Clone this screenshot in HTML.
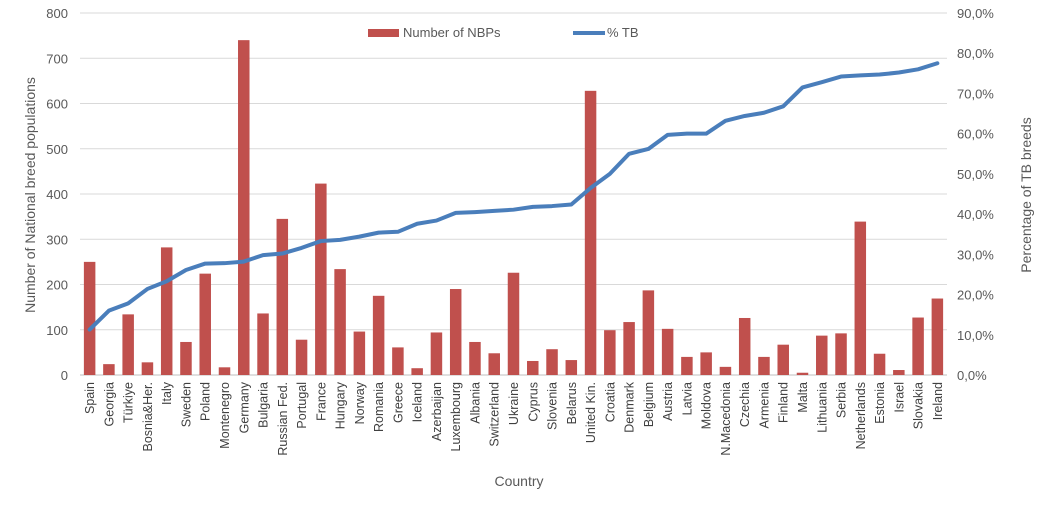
<!DOCTYPE html>
<html><head><meta charset="utf-8"><style>
body{margin:0;background:#fff}
svg{display:block;font-family:"Liberation Sans",sans-serif}
</style></head><body>
<svg id="chart" width="1058" height="511" viewBox="0 0 1058 511">
<g id="grid"></g><g id="bars"></g><g id="line"></g><g id="axes"></g>
<g>
<rect x="368" y="29" width="31" height="8" fill="#c0504d"/>
<text x="403" y="37" font-size="13" fill="#595959">Number of NBPs</text>
<line x1="573" y1="33" x2="605" y2="33" stroke="#4a7ebb" stroke-width="4"/>
<text x="607" y="37" font-size="13" fill="#595959">% TB</text>
</g>
<text x="519" y="486" font-size="14" fill="#595959" text-anchor="middle">Country</text>
<text transform="translate(35,195) rotate(-90)" font-size="14" fill="#595959" text-anchor="middle">Number of National breed populations</text>
<text transform="translate(1031,195) rotate(-90)" font-size="14" fill="#595959" text-anchor="middle">Percentage of TB breeds</text>
</svg>
<script>
const categories=["Spain","Georgia","Türkiye","Bosnia&Her.","Italy","Sweden","Poland","Montenegro","Germany","Bulgaria","Russian Fed.","Portugal","France","Hungary","Norway","Romania","Greece","Iceland","Azerbaijan","Luxembourg","Albania","Switzerland","Ukraine","Cyprus","Slovenia","Belarus","United Kin.","Croatia","Denmark","Belgium","Austria","Latvia","Moldova","N.Macedonia","Czechia","Armenia","Finland","Malta","Lithuania","Serbia","Netherlands","Estonia","Israel","Slovakia","Ireland"];
const nbps=[250,24,134,28,282,73,224,17,740,136,345,78,423,234,96,175,61,15,94,190,73,48,226,31,57,33,628,99,117,187,102,40,50,18,126,40,67,5,87,92,339,47,11,127,169];
const pctTB=[11.3,16.0,17.8,21.4,23.3,26.1,27.7,27.8,28.2,29.8,30.2,31.6,33.3,33.6,34.4,35.4,35.6,37.6,38.4,40.3,40.5,40.8,41.1,41.8,42.0,42.4,46.5,50.0,55.0,56.2,59.7,60.0,60.0,63.2,64.4,65.2,66.8,71.5,72.8,74.2,74.5,74.7,75.2,76.0,77.5];
const leftTicks=[0,100,200,300,400,500,600,700,800];
const rightTicks=["0,0%","10,0%","20,0%","30,0%","40,0%","50,0%","60,0%","70,0%","80,0%","90,0%"];
const X0=80,X1=947,Y0=375,Y1=13;
const bw=(X1-X0)/categories.length;
const xc=i=>X0+bw*(i+0.5);
const yL=v=>Y0-(v/800)*(Y0-Y1);
const yR=p=>Y0-(p/90)*(Y0-Y1);
const NS="http://www.w3.org/2000/svg";
function mk(t,a,p){const e=document.createElementNS(NS,t);for(const k in a)e.setAttribute(k,a[k]);document.getElementById(p).appendChild(e);return e;}
leftTicks.forEach(v=>{
 const l=mk("line",{x1:X0,x2:X1,y1:yL(v),y2:yL(v),stroke:v===0?"#bfbfbf":"#d9d9d9","stroke-width":1},"grid");
 
 
 const t=mk("text",{x:68,y:yL(v)+5,"font-size":13,fill:"#595959","text-anchor":"end"},"axes");t.textContent=v;
 
 
});
rightTicks.forEach((s,i)=>{
 const t=mk("text",{x:957,y:yR(i*10)+5,"font-size":13,fill:"#595959"},"axes");t.textContent=s;
 
 
});
categories.forEach((c,i)=>{
 const w=11.5,h=Y0-yL(nbps[i]);
 const r=mk("rect",{x:xc(i)-w/2,y:yL(nbps[i]),width:w,height:h,fill:"#c0504d"},"bars");
 
 
 const t=mk("text",{transform:`translate(${xc(i)+4.5},382) rotate(-90)`,"font-size":12.5,fill:"#404040","text-anchor":"end"},"axes");t.textContent=c;
 
 
});
const pl=mk("polyline",{points:pctTB.map((p,i)=>xc(i)+","+yR(p)).join(" "),fill:"none",stroke:"#4a7ebb","stroke-width":4,"stroke-linejoin":"round","stroke-linecap":"round"},"line");


</script>
</body></html>
